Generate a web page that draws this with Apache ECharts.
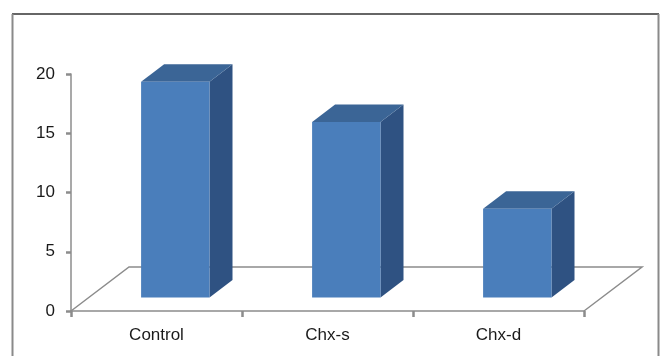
<!DOCTYPE html>
<html>
<head>
<meta charset="utf-8">
<style>
  html, body { margin: 0; padding: 0; background: #ffffff; }
  #chart { width: 665px; height: 356px; }
</style>
<script src="https://cdn.jsdelivr.net/npm/echarts@6/dist/echarts.min.js"></script>
</head>
<body>
<div id="chart"></div>
<script>
// Groups and their measured values
const categories = ['Control', 'Chx-s', 'Chx-d'];
const values = [18.2, 14.8, 7.5];
const yTicks = { min: 0, max: 20, interval: 5 };

// Pseudo-3D look (pixels)
const FLOOR_DX = 58, FLOOR_DY = -44;   // depth of the floor plane
const BAR_DX = 18.8, BAR_DY = -13.5;   // where the bar front sits inside the floor
const DEPTH_DX = 23, DEPTH_DY = -17.5; // bar thickness
const AXIS_GRAY = '#8c8c8c';
const FRONT = '#4a7ebb', TOP = '#3b6596', SIDE = '#2f5282';

const chart = echarts.init(document.getElementById('chart'), null, { renderer: 'canvas' });

function renderFloor(params, api) {
  const band = api.size([1, 0])[0];
  const left = api.coord([0, 0]);
  const right = api.coord([categories.length - 1, 0]);
  const x0 = left[0] - band / 2, x1 = right[0] + band / 2, y = left[1];
  const st = { stroke: AXIS_GRAY, lineWidth: 1.5, fill: null };
  return {
    type: 'group',
    children: [
      { type: 'polyline', shape: { points: [[x0, y], [x0 + FLOOR_DX, y + FLOOR_DY], [x1 + FLOOR_DX, y + FLOOR_DY], [x1, y]] }, style: st, silent: true }
    ]
  };
}

function renderBar(params, api) {
  const idx = api.value(0);
  const v = api.value(1);
  const base = api.coord([idx, 0]);
  const top = api.coord([idx, v]);
  const w = api.size([1, 0])[0] * 0.4;
  const cx = base[0] + BAR_DX;
  const x0 = cx - w / 2, x1 = cx + w / 2;
  const yb = base[1] + BAR_DY, yt = top[1] + BAR_DY;
  return {
    type: 'group',
    children: [
      { type: 'polygon', shape: { points: [[x1, yt], [x1 + DEPTH_DX, yt + DEPTH_DY], [x1 + DEPTH_DX, yb + DEPTH_DY], [x1, yb]] }, style: { fill: SIDE } },
      { type: 'polygon', shape: { points: [[x0, yt], [x1, yt], [x1 + DEPTH_DX, yt + DEPTH_DY], [x0 + DEPTH_DX, yt + DEPTH_DY]] }, style: { fill: TOP } },
      { type: 'rect', shape: { x: x0, y: yt, width: w, height: yb - yt }, style: { fill: FRONT } }
    ]
  };
}

chart.setOption({
  animation: false,
  grid: { left: 71, right: 81, top: 74, bottom: 45, containLabel: false },
  xAxis: {
    type: 'category',
    data: categories,
    boundaryGap: true,
    axisLine: { lineStyle: { color: AXIS_GRAY, width: 1.5 } },
    axisTick: { show: true, length: 6, lineStyle: { color: AXIS_GRAY, width: 2.5 } },
    axisLabel: { color: '#1a1a1a', fontSize: 17, fontFamily: 'Liberation Sans', margin: 16 }
  },
  yAxis: {
    type: 'value',
    min: yTicks.min, max: yTicks.max, interval: yTicks.interval,
    axisLine: { show: true, lineStyle: { color: AXIS_GRAY, width: 1.5 } },
    axisTick: { show: true, length: 5, lineStyle: { color: AXIS_GRAY, width: 2.5 } },
    splitLine: { show: false },
    axisLabel: { color: '#1a1a1a', fontSize: 17, fontFamily: 'Liberation Sans', margin: 16 }
  },
  graphic: [
    { type: 'line', shape: { x1: 12, y1: 14, x2: 659, y2: 14 }, style: { stroke: '#333333', lineWidth: 1.5 }, z: 100 },
    { type: 'line', shape: { x1: 12.5, y1: 14, x2: 12.5, y2: 356 }, style: { stroke: '#8a8a8a', lineWidth: 2 }, z: 100 },
    { type: 'line', shape: { x1: 658.5, y1: 14, x2: 658.5, y2: 356 }, style: { stroke: '#8a8a8a', lineWidth: 2 }, z: 100 }
  ],
  series: [
    { type: 'custom', renderItem: renderFloor, data: [[0, 0]], z: 1, silent: true, clip: false },
    { type: 'custom', renderItem: renderBar, data: values.map((v, i) => [i, v]), z: 2, clip: false }
  ]
});
</script>
</body>
</html>
